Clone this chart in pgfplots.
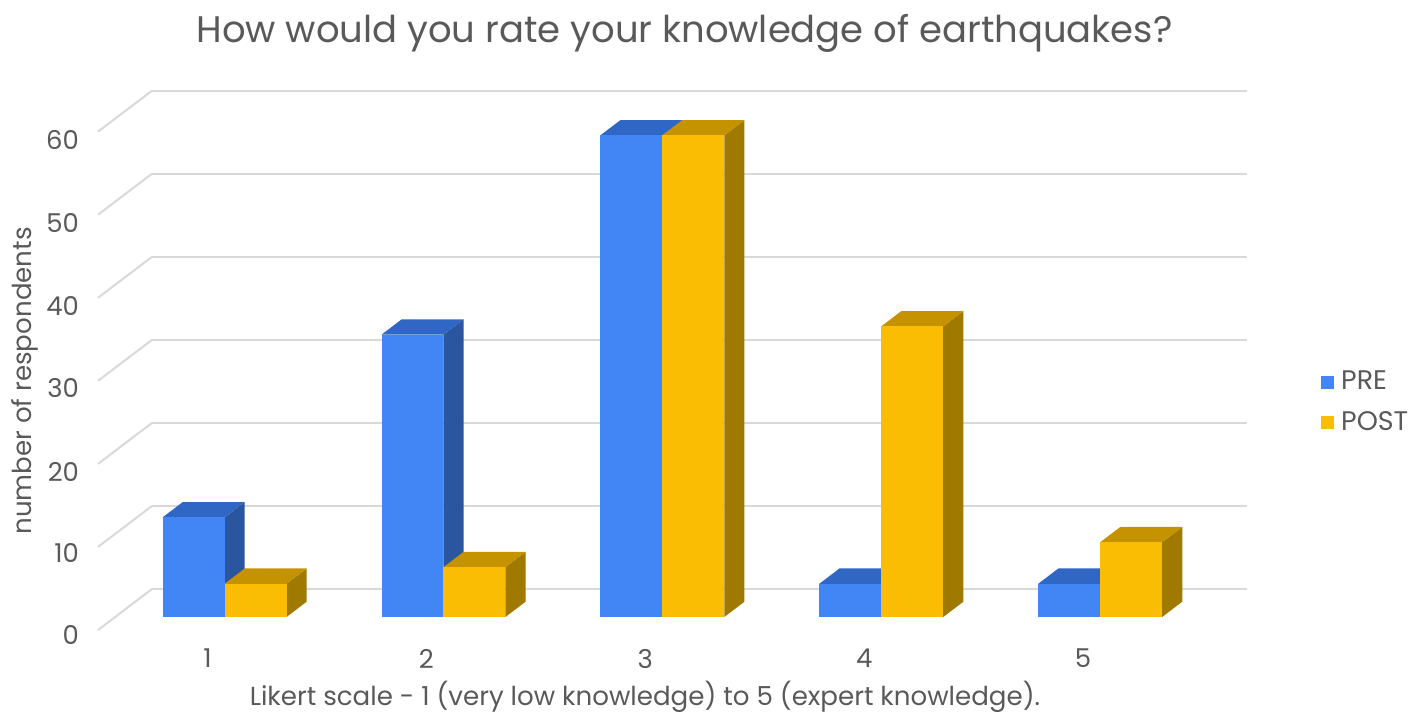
\documentclass[border=0pt]{standalone}
\usepackage{pgfplots}
\pgfplotsset{compat=1.18}
\usepackage{fontspec}
\setmainfont{Poppins}
\definecolor{txt}{HTML}{595959}
\definecolor{gridc}{HTML}{D9D9D9}
\definecolor{preF}{HTML}{4285F4}
\definecolor{preS}{HTML}{2A569F}
\definecolor{preT}{HTML}{3066C4}
\definecolor{postF}{HTML}{FBBC04}
\definecolor{postS}{HTML}{A07A00}
\definecolor{postT}{HTML}{C69300}
% #1 left x, #2 right x, #3 value, #4 series colour prefix
\newcommand{\cuboid}[4]{%
 \addplot3[fill=#4S, draw=none, forget plot] coordinates {(#2,0.317,0) (#2,0.69,0) (#2,0.69,#3) (#2,0.317,#3)};
 \addplot3[fill=#4T, draw=none, forget plot] coordinates {(#1,0.317,#3) (#2,0.317,#3) (#2,0.69,#3) (#1,0.69,#3)};
 \addplot3[fill=#4F, draw=none, forget plot] coordinates {(#1,0.317,0) (#2,0.317,0) (#2,0.317,#3) (#1,0.317,#3)};
}
\begin{document}
\begin{tikzpicture}
\begin{axis}[
 x={(109.45bp,0bp)}, y={(27bp,20.5bp)}, z={(0bp,4.1525bp)},
 xmin=0.5, xmax=5.5, ymin=0, ymax=1, zmin=0, zmax=60,
 clip=false,
 axis line style={draw=none},
 tick style={draw=none},
 major tick length=0pt,
 xtick={1,2,3,4,5}, ytick=\empty, ztick={0,10,...,60},
 zmajorgrids,
 grid style={color=gridc, line width=1bp},
 /pgf/number format/assume math mode=true,
 ticklabel style={font=\fontsize{13}{15}\selectfont, text=txt},
 xticklabel style={anchor=north, yshift=-6bp},
 zticklabel style={xshift=-6bp},
 legend style={at={(axis description cs:1.0647,0.4218)}, anchor=west, draw=none, fill=none,
   font=\fontsize{13.5}{15}\selectfont, text=txt, row sep=9.5bp, inner sep=0pt,
   nodes={inner sep=0pt}},
 legend cell align=left,
 legend image code/.code={\fill[#1] (0bp,-3.25bp) rectangle (6.5bp,3.25bp);},
]
\coordinate (O) at (axis cs:0,0,0);
\addlegendimage{fill=preF, draw=none}
\addlegendentry{\hspace{3.5bp}PRE}
\addlegendimage{fill=postF, draw=none}
\addlegendentry{\hspace{3.5bp}POST}
% category 1: PRE 12, POST 4
\cuboid{0.717}{1}{12}{pre}
\cuboid{1}{1.283}{4}{post}
% category 2: PRE 34, POST 6
\cuboid{1.717}{2}{34}{pre}
\cuboid{2}{2.283}{6}{post}
% category 3: PRE 58, POST 58
\cuboid{2.717}{3}{58}{pre}
\cuboid{3}{3.283}{58}{post}
% category 4: PRE 4, POST 35
\cuboid{3.717}{4}{4}{pre}
\cuboid{4}{4.283}{35}{post}
% category 5: PRE 4, POST 9
\cuboid{4.717}{5}{4}{pre}
\cuboid{5}{5.283}{9}{post}
\end{axis}
\begin{scope}[shift={(O)}]
\node[anchor=base, text=txt, font=\fontsize{18.55}{21}\selectfont] at (347.98bp,293.85bp) {How would you rate your knowledge of earthquakes?};
\node[anchor=center, text=txt, font=\fontsize{13.1}{15}\selectfont] at (328.2bp,-33.5bp) {Likert scale - 1 (very low knowledge) to 5 (expert knowledge).};
\node[anchor=center, rotate=90, text=txt, font=\fontsize{13.1}{15}\selectfont] at (18.2bp,124.5bp) {number of respondents};
\pgfresetboundingbox
\path[use as bounding box] (5.725bp,-48.5bp) rectangle (714.225bp,315bp);
\end{scope}
\end{tikzpicture}
\end{document}
